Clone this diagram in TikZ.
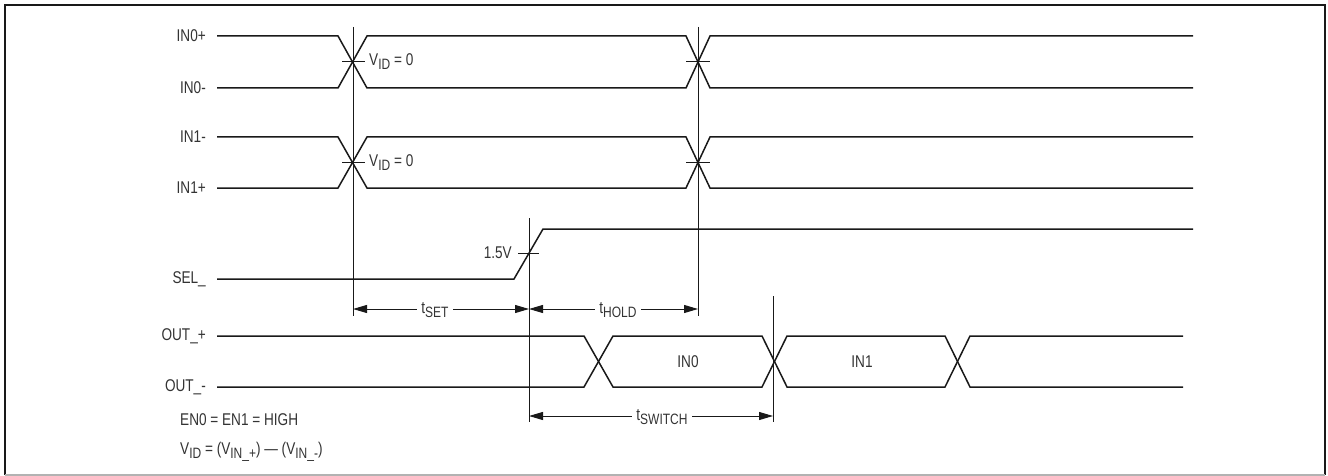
\documentclass[tikz,border=0pt]{standalone}
\usepackage{fontspec}
\setmainfont{Liberation Sans}[FakeStretch=0.8]
\usetikzlibrary{arrows.meta}
\newcommand{\lsub}[1]{\raisebox{-0.45ex}{\fontsize{15}{15}\selectfont #1}}
\begin{document}
\begin{tikzpicture}[x=1pt,y=-1pt,
  sig/.style={line width=1.5pt, line join=miter, black!90},
  vmark/.style={line width=1pt, black!90},
  lbl/.style={font=\fontsize{17}{20}\selectfont, text=black!80, inner sep=0pt},
  dimline/.style={line width=1pt, black!90, {Triangle[length=14pt,width=8pt]}-{Triangle[length=14pt,width=8pt]}},
  dimlbl/.style={lbl, fill=white, inner xsep=4pt, inner ysep=1pt}]
\useasboundingbox (0,0) rectangle (1328,476);
% frame
\draw[line width=2pt, black!90] (5,475) -- (5,5) -- (1325,5) -- (1325,475);
\draw[line width=1.5pt, black!30] (5,475) -- (1325,475);

% signal labels
\node[lbl, anchor=east] (l0p) at (206,36) {IN0+};
\node[lbl, anchor=east] (l0m) at (206,88) {IN0-};
\node[lbl, anchor=east] (l1m) at (206,137) {IN1-};
\node[lbl, anchor=east] (l1p) at (206,188) {IN1+};
\node[lbl, anchor=east] (lsel) at (206,279) {SEL\_};
\node[lbl, anchor=east] (lop) at (206,336) {OUT\_+};
\node[lbl, anchor=east] (lom) at (206,387) {OUT\_-};

% IN0 pair
\draw[sig] (217,36) -- (338,36) -- (367,88) -- (686,88) -- (710,36) -- (1193,36);
\draw[sig] (217,88) -- (338,88) -- (367,36) -- (686,36) -- (710,88) -- (1193,88);
% IN1 pair
\draw[sig] (217,137) -- (338,137) -- (367,188) -- (686,188) -- (710,137) -- (1193,137);
\draw[sig] (217,188) -- (338,188) -- (367,137) -- (686,137) -- (710,188) -- (1193,188);
% ticks at crossings
\draw[vmark] (342,62) -- (365,62);
\draw[vmark] (342,162.5) -- (365,162.5);
\draw[vmark] (686,62) -- (710,62);
\draw[vmark] (686,162.5) -- (710,162.5);
\node[lbl, anchor=west] (vid0) at (369,62) {V\lsub{ID} = 0};
\node[lbl, anchor=west] (vid1) at (369,162.5) {V\lsub{ID} = 0};

% SEL
\draw[sig] (217,279) -- (514,279) -- (543,229) -- (1193,229);
\draw[vmark] (518,253) -- (539,253);
\node[lbl, anchor=east] (v15) at (512,253) {1.5V};

% OUT pair
\draw[sig] (217,336) -- (584,336) -- (613,387) -- (762,387) -- (787,336) -- (945,336) -- (970,387) -- (1183,387);
\draw[sig] (217,387) -- (584,387) -- (613,336) -- (762,336) -- (787,387) -- (945,387) -- (970,336) -- (1183,336);
\node[lbl] (in0) at (688,362) {IN0};
\node[lbl] (in1) at (862,362) {IN1};

% vertical reference lines
\coordinate (a1) at (353,27);  \coordinate (a2) at (353,316);
\coordinate (b1) at (698,27);  \coordinate (b2) at (698,316);
\coordinate (c1) at (529,218); \coordinate (c2) at (529,422);
\coordinate (d1) at (773,296); \coordinate (d2) at (773,422);
\draw[vmark] (a1) -- (a2);
\draw[vmark] (b1) -- (b2);
\draw[vmark] (c1) -- (c2);
\draw[vmark] (d1) -- (d2);

% dimension arrows
\coordinate (s1) at (353,309); \coordinate (s2) at (529,309);
\coordinate (h2) at (698,309);
\coordinate (w1) at (529,416); \coordinate (w2) at (773,416);
\draw[dimline] (s1) -- (s2);
\draw[dimline] (s2) -- (h2);
\draw[dimline] (w1) -- (w2);
\node[dimlbl] (tset) at (435,310) {t\lsub{SET}};
\node[dimlbl] (thold) at (618,310) {t\lsub{HOLD}};
\node[dimlbl] (tsw) at (662,417) {t\lsub{SWITCH}};

% notes
\node[lbl, anchor=west] (en) at (180,420) {EN0 = EN1 = HIGH};
\node[lbl, anchor=west] (vdef) at (180,452) {V\lsub{ID} = (V\lsub{IN\_+}) --- (V\lsub{IN\_-})};
\end{tikzpicture}
\end{document}
